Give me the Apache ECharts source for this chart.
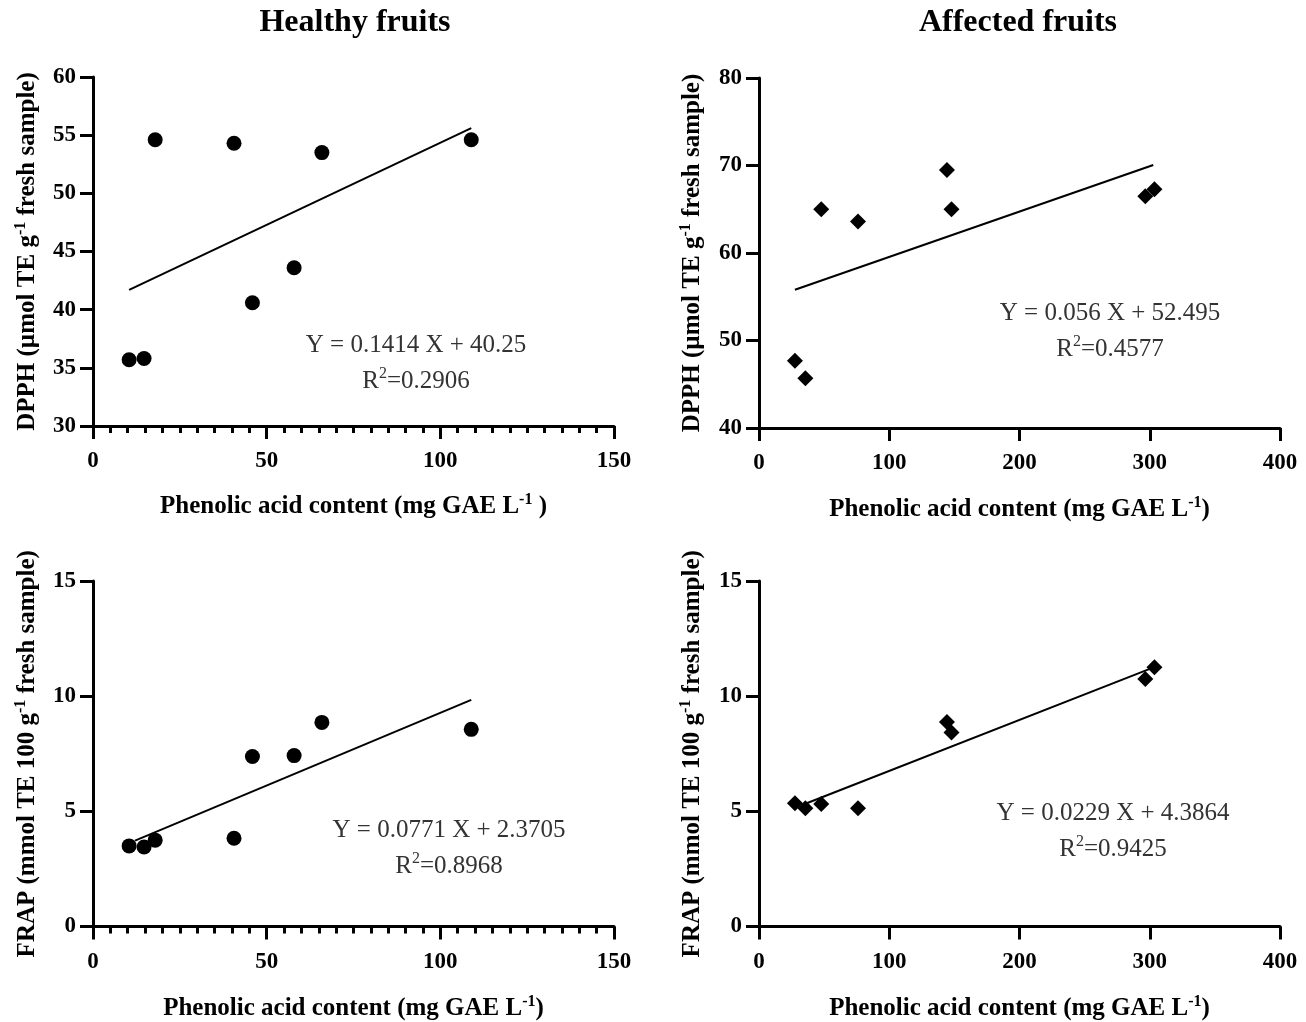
<!DOCTYPE html>
<html>
<head>
<meta charset="utf-8">
<title>Phenolic acid content vs DPPH / FRAP</title>
<script src="https://cdn.jsdelivr.net/npm/echarts@6/dist/echarts.min.js"></script>
<style>
  html, body { margin: 0; padding: 0; background: #fff; }
  #chart { width: 1306px; height: 1022px; }
</style>
</head>
<body>
<div id="chart"></div>
<script>
// phenolic acid content (mg GAE/L) of each sample
var healthyX  = [10.4, 14.7, 17.9, 40.6, 45.9, 57.9, 65.9, 108.9];
var affectedX = [27.6, 35.6, 47.8, 76.0, 144.3, 147.8, 296.6, 303.6];

// DPPH (umol TE/g)
var healthyDpph  = [35.7, 35.8, 54.6, 54.3, 40.6, 43.6, 53.5, 54.6];
var affectedDpph = [47.7, 45.7, 65.0, 63.6, 69.5, 65.0, 66.5, 67.3];

// FRAP (mmol TE/100 g)
var healthyFrap  = [3.50, 3.45, 3.75, 3.83, 7.38, 7.42, 8.86, 8.56];
var affectedFrap = [5.35, 5.13, 5.32, 5.13, 8.88, 8.42, 10.74, 11.26];

// regression lines, end points as drawn
var fitHealthyDpph  = [[10.4, 41.7], [108.9, 55.6]];
var fitAffectedDpph = [[27.6, 55.8], [302.7, 70.05]];
var fitHealthyFrap  = [[12.1, 3.73], [108.9, 9.84]];
var fitAffectedFrap = [[36.6, 5.35], [302.5, 11.24]];

var equations = ['Y = 0.1414 X + 40.25', 'Y = 0.056 X + 52.495', 'Y = 0.0771 X + 2.3705', 'Y = 0.0229 X + 4.3864'];
var r2Values  = ['0.2906', '0.4577', '0.8968', '0.9425'];
var headers   = ['Healthy fruits', 'Affected fruits'];

var FONT = "'Liberation Serif', 'DejaVu Serif', serif";

function pairs(xs, ys) {
  return xs.map(function (x, i) { return [x, ys[i]]; });
}

var nameRich = {
  b: { fontFamily: FONT, fontSize: 25, fontWeight: 'bold', color: '#000', lineHeight: 30 },
  s: { fontFamily: FONT, fontSize: 16, fontWeight: 'bold', color: '#000', lineHeight: 22, verticalAlign: 'top' }
};

function axis(type, grid, min, max, interval, name, gap, minor) {
  return {
    type: 'value',
    gridIndex: grid,
    min: min, max: max, interval: interval,
    name: name,
    nameLocation: 'middle',
    nameGap: gap,
    nameTextStyle: { rich: nameRich },
    axisLine: { show: true, onZero: false, lineStyle: { color: '#000', width: 3 } },
    axisTick: { show: true, length: 13, lineStyle: { color: '#000', width: 3 } },
    minorTick: { show: !!minor, splitNumber: 10, length: 7, lineStyle: { color: '#000', width: 3 } },
    splitLine: { show: false },
    axisLabel: {
      color: '#000', fontFamily: FONT, fontSize: 23, fontWeight: 'bold',
      margin: type === 'x' ? 24 : 17
    }
  };
}

var xNameTL = '{b|Phenolic acid content (mg GAE L}{s|-1}{b| )}';
var xName = '{b|Phenolic acid content (mg GAE L}{s|-1}{b|)}';
var yDpph = '{b|DPPH (µmol TE g}{s|-1}{b| fresh sample)}';
var yFrap = '{b|FRAP (mmol TE 100 g}{s|-1}{b| fresh sample)}';

var titles = [];
[355, 1018].forEach(function (cx, i) {
  titles.push({
    text: headers[i], left: cx, top: 23, padding: 0,
    textAlign: 'center', textVerticalAlign: 'middle',
    textStyle: { fontFamily: FONT, fontSize: 32, fontWeight: 'bold', color: '#000' }
  });
});
var eqPos = [[416, 345, 381], [1110, 313, 349], [449, 830, 866], [1113, 813, 849]];
eqPos.forEach(function (p, i) {
  titles.push({
    text: equations[i], left: p[0], top: p[1], padding: 0,
    textAlign: 'center', textVerticalAlign: 'middle',
    textStyle: { fontFamily: FONT, fontSize: 25, fontWeight: 'normal', color: '#333' }
  });
  titles.push({
    text: '{n|R}{s|2}{n|=' + r2Values[i] + '}', left: p[0], top: p[2], padding: 0,
    textAlign: 'center', textVerticalAlign: 'middle',
    textStyle: {
      fontWeight: 'normal',
      rich: {
        n: { fontFamily: FONT, fontSize: 25, fontWeight: 'normal', color: '#333', lineHeight: 30 },
        s: { fontFamily: FONT, fontSize: 16, fontWeight: 'normal', color: '#333', lineHeight: 22, verticalAlign: 'top' }
      }
    }
  });
});

function scatter(idx, data, symbol) {
  return {
    type: 'scatter', xAxisIndex: idx, yAxisIndex: idx,
    data: data, symbol: symbol, symbolSize: symbol === 'circle' ? 15 : 16,
    itemStyle: { color: '#000', opacity: 1 }, z: 3
  };
}
function fit(idx, data) {
  return {
    type: 'line', xAxisIndex: idx, yAxisIndex: idx,
    data: data, showSymbol: false, symbol: 'none',
    lineStyle: { color: '#000', width: 2 }, z: 2
  };
}

var chart = echarts.init(document.getElementById('chart'));
chart.setOption({
  animation: false,
  backgroundColor: '#fff',
  title: titles,
  grid: [
    { left: 93, top: 77, width: 521, height: 349 },
    { left: 759, top: 78, width: 521, height: 350 },
    { left: 93, top: 581, width: 521, height: 347 },
    { left: 759, top: 581, width: 521, height: 347 }
  ],
  xAxis: [
    axis('x', 0, 0, 150, 50, xNameTL, 66, true),
    axis('x', 1, 0, 400, 100, xName, 67, false),
    axis('x', 2, 0, 150, 50, xName, 67, true),
    axis('x', 3, 0, 400, 100, xName, 67, false)
  ],
  yAxis: [
    axis('y', 0, 30, 60, 5, yDpph, 50, false),
    axis('y', 1, 40, 80, 10, yDpph, 51, false),
    axis('y', 2, 0, 15, 5, yFrap, 50, false),
    axis('y', 3, 0, 15, 5, yFrap, 51, false)
  ],
  series: [
    scatter(0, pairs(healthyX, healthyDpph), 'circle'),
    fit(0, fitHealthyDpph),
    scatter(1, pairs(affectedX, affectedDpph), 'diamond'),
    fit(1, fitAffectedDpph),
    scatter(2, pairs(healthyX, healthyFrap), 'circle'),
    fit(2, fitHealthyFrap),
    scatter(3, pairs(affectedX, affectedFrap), 'diamond'),
    fit(3, fitAffectedFrap)
  ]
});
</script>
</body>
</html>
